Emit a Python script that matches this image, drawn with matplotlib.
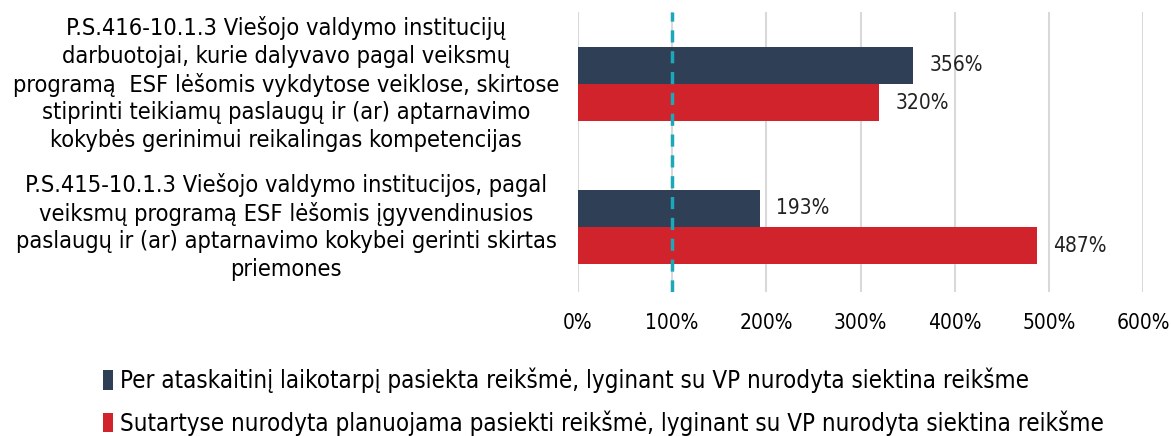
import matplotlib
matplotlib.use("Agg")
import matplotlib.pyplot as plt
import numpy as np

plt.rcParams['font.family'] = ['DejaVu Sans']
plt.rcParams['font.stretch'] = 'condensed'

categories = [
    "P.S.415-10.1.3 Viešojo valdymo institucijos, pagal\nveiksmų programą ESF lėšomis įgyvendinusios\npaslaugų ir (ar) aptarnavimo kokybei gerinti skirtas\npriemones",
    "P.S.416-10.1.3 Viešojo valdymo institucijų\ndarbuotojai, kurie dalyvavo pagal veiksmų\nprogramą  ESF lėšomis vykdytose veiklose, skirtose\nstiprinti teikiamų paslaugų ir (ar) aptarnavimo\nkokybės gerinimui reikalingas kompetencijas",
]
series_names = [
    "Per ataskaitinį laikotarpį pasiekta reikšmė, lyginant su VP nurodyta siektina reikšme",
    "Sutartyse nurodyta planuojama pasiekti reikšmė, lyginant su VP nurodyta siektina reikšme",
]
actual = [193, 356]
planned = [487, 320]
target_line = 100
xticks = [0, 100, 200, 300, 400, 500, 600]

navy = "#2f3f56"
red = "#d0232b"
teal = "#1ba8b8"

fig = plt.figure(figsize=(11.71, 4.36), dpi=100)
ax = fig.add_axes([0.4936, 0.330, 0.4825, 0.6425])

y = np.arange(len(categories))
h = 0.26
b1 = ax.barh(y + h / 2, actual, height=h, color=navy, label=series_names[0], zorder=3)
b2 = ax.barh(y - h / 2, planned, height=h, color=red, label=series_names[1], zorder=3)

for bars, vals in [(b1, actual), (b2, planned)]:
    for bar, v in zip(bars, vals):
        ax.text(v + 17, bar.get_y() + bar.get_height() / 2, f"{v}%",
                va="center", ha="left", fontsize=15, color="#222222")

ax.axvline(target_line, color=teal, linestyle=(0, (3.5, 2.5)), linewidth=2.5, zorder=4)

ax.set_xlim(0, 600)
ax.set_ylim(-0.455, 1.503)
ax.set_xticks(xticks)
ax.set_xticklabels([f"{t}%" for t in xticks], fontsize=15)
ax.set_yticks(y)
ax.set_yticklabels(categories, fontsize=16.9, ha="center", va="center", linespacing=1.25)
ax.get_yticklabels()[0].set_y(-0.04)
ax.tick_params(axis="y", length=0, pad=210)
ax.tick_params(axis="x", length=0, pad=15)
ax.grid(axis="x", color="#d9d9d9", linewidth=1.5, zorder=0)
for s in ax.spines.values():
    s.set_visible(False)

fig.legend(handles=[b1, b2], loc="center left", bbox_to_anchor=(0.088, 0.078),
           frameon=False, fontsize=17.3, handlelength=0.42, handleheight=0.85,
           handletextpad=0.3, labelspacing=0.72, borderpad=0, borderaxespad=0)

fig.savefig("out.png", dpi=100)
